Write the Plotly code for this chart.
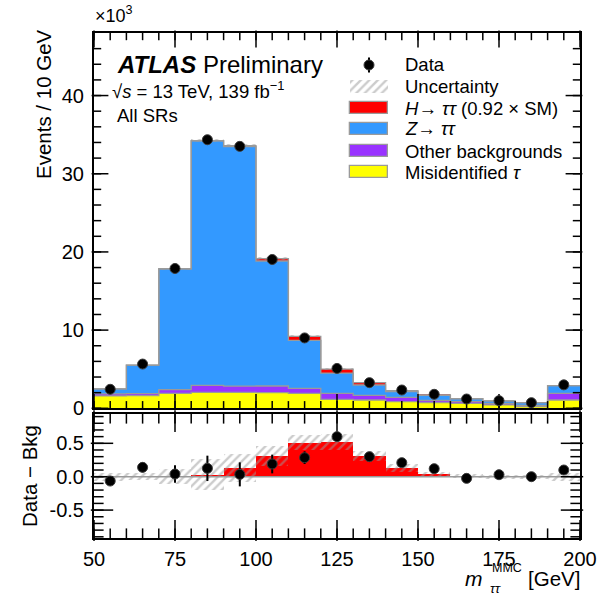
import numpy as np
import plotly.graph_objects as go

# ---------------- data (units of 10^3 events) ----------------
bin_lo = [50, 60, 70, 80, 90, 100, 110, 120, 130, 140, 150, 160, 170, 180, 190]
bin_w = 10
data = [2.43, 5.66, 17.88, 34.35, 33.50, 19.03, 9.00, 5.10, 3.28, 2.34, 1.79, 1.19, 0.98, 0.72, 3.00]
data_err = [0.05, 0.075, 0.13, 0.19, 0.18, 0.14, 0.095, 0.07, 0.06, 0.05, 0.04, 0.035, 0.03, 0.03, 0.055]
fake = [1.60, 1.62, 1.90, 2.04, 2.04, 2.00, 1.90, 1.15, 1.06, 0.85, 0.72, 0.62, 0.43, 0.22, 1.06]
other = [0.25, 0.25, 0.50, 0.90, 0.80, 0.85, 0.65, 0.75, 0.60, 0.55, 0.28, 0.23, 0.20, 0.14, 0.85]
ztt = [0.64, 3.65, 15.44, 31.26, 30.63, 15.99, 6.15, 2.60, 1.32, 0.73, 0.67, 0.37, 0.32, 0.36, 0.99]
htt = [0.0, 0.0, 0.005, 0.03, 0.135, 0.31, 0.51, 0.52, 0.31, 0.125, 0.035, 0.005, 0.0, 0.0, 0.0]
diff = [-0.065, 0.14, 0.04, 0.125, 0.035, 0.19, 0.285, 0.60, 0.30, 0.21, 0.12, -0.025, 0.03, 0.0, 0.10]
unc = [0.06, 0.05, 0.11, 0.23, 0.21, 0.15, 0.11, 0.12, 0.07, 0.06, 0.04, 0.03, 0.03, 0.03, 0.06]

x_ticks = [50, 75, 100, 125, 150, 175, 200]
x_minor = list(range(50, 201, 5))
y_ticks_top = [0, 10, 20, 30, 40]
y_minor_top = list(range(0, 48, 2))
y_ticks_bot = [-0.5, 0.0, 0.5]
y_minor_bot = [round(-0.9 + 0.1 * i, 1) for i in range(19)]
y_ticktext_bot = ["-0.5", "0.0", "0.5"]

legend_labels = ["Data", "Uncertainty", "<i>H</i>\u2192 <i>\u03c4\u03c4</i> (0.92 \u00d7 SM)",
                 "<i>Z</i>\u2192 <i>\u03c4\u03c4</i>", "Other backgrounds", "Misidentified <i>\u03c4</i>"]

# ---------------- styles ----------------
C_FAKE = "#ffff00"
C_OTHER = "#9933ff"
C_Z = "#3399ff"
C_H = "#ff0000"
C_OUT = "#9a9a9a"
C_HATCH = "#999999"
FONT = "Liberation Sans, Arial, Helvetica, sans-serif"

W, H = 599, 596
L, R, T, B = 94, 19, 33, 58
PW, PH = W - L - R, H - T - B
X_RANGE = [50, 200]
Y_RANGE_TOP = [0, 48]
Y_RANGE_BOT = [-0.918, 0.939]
TOP_BOTTOM_PX = 408.3
BOT_TOP_PX = 414
BOT_BOTTOM_PX = H - B


def px(xp):
    return (xp - L) / PW


def py(yp):
    return (H - B - yp) / PH


def xd(xp):  # pixel -> x data
    return X_RANGE[0] + (xp - L) / PW * (X_RANGE[1] - X_RANGE[0])


def yd(yp):  # pixel -> top-panel y data (for legend glyphs)
    return (TOP_BOTTOM_PX - yp) / (TOP_BOTTOM_PX - T) * (Y_RANGE_TOP[1] - Y_RANGE_TOP[0])


X_PER_PX = (X_RANGE[1] - X_RANGE[0]) / PW
YTOP_PER_PX = (Y_RANGE_TOP[1] - Y_RANGE_TOP[0]) / (TOP_BOTTOM_PX - T)
YBOT_PER_PX = (Y_RANGE_BOT[1] - Y_RANGE_BOT[0]) / (BOT_BOTTOM_PX - BOT_TOP_PX)

lo = np.array(bin_lo, dtype=float)
cen = lo + bin_w / 2
edges = np.append(lo, lo[-1] + bin_w)
fake_a, other_a, z_a, h_a = map(np.array, (fake, other, ztt, htt))
c1 = fake_a
c2 = c1 + other_a
c3 = c2 + z_a
c4 = c3 + h_a
unc_a = np.array(unc)

fig = go.Figure()
hatch = dict(shape="/", fgcolor=C_HATCH, bgcolor="rgba(0,0,0,0)", size=6, solidity=0.4, fillmode="overlay")
marker_data = dict(color="black", size=10, line=dict(color="#3a3a3a", width=1))


def bar(x, height, base, width, color, xa="x", ya="y", line=None, pattern=None):
    mk = dict(color=color, line=line or dict(width=0))
    if pattern:
        mk["pattern"] = pattern
    fig.add_trace(go.Bar(x=x, y=height, base=base, width=width, marker=mk,
                         xaxis=xa, yaxis=ya, showlegend=False, hoverinfo="skip"))


# ---- upper panel ----
bar(cen, fake_a, np.zeros_like(c1), bin_w, C_FAKE)
bar(cen, other_a, c1, bin_w, C_OTHER)
bar(cen, z_a, c2, bin_w, C_Z)
bar(cen, h_a, c3, bin_w, C_H)
for top in (c1, c2, c3, c4):
    fig.add_trace(go.Scatter(x=edges, y=np.append(top, top[-1]), mode="lines",
                             line=dict(shape="hv", color=C_OUT, width=1.3),
                             xaxis="x", yaxis="y", showlegend=False, hoverinfo="skip"))
bar(cen, 2 * unc_a, c4 - unc_a, bin_w, "rgba(0,0,0,0)", pattern=hatch)

# ---- lower panel ----
bar(cen, h_a, np.zeros_like(h_a), bin_w, C_H, xa="x2", ya="y2")
fig.add_trace(go.Scatter(x=[edges[0], edges[-1]], y=[0, 0], mode="lines", line=dict(color=C_OUT, width=1.5),
                         xaxis="x2", yaxis="y2", showlegend=False, hoverinfo="skip"))
bar(cen, 2 * unc_a, h_a - unc_a, bin_w, "rgba(0,0,0,0)", xa="x2", ya="y2", pattern=hatch)

# ---- legend glyphs (placed in the upper panel) ----
leg_y = [65, 86, 108, 129, 151, 172]
leg_x0, leg_x1 = 350, 388
leg_cx = xd((leg_x0 + leg_x1) / 2)
leg_w = xd(leg_x1) - xd(leg_x0)
bar([leg_cx], [yd(leg_y[1] - 6.5) - yd(leg_y[1] + 6.5)], [yd(leg_y[1] + 6.5)], leg_w, "rgba(0,0,0,0)",
    pattern=hatch)
for yy, col in zip(leg_y[2:], [C_H, C_Z, C_OTHER, C_FAKE]):
    bar([leg_cx], [yd(yy - 6) - yd(yy + 6)], [yd(yy + 6)], leg_w, col, line=dict(color=C_OUT, width=1.3))


# ---- ROOT-style inside ticks on all four sides, drawn as line-shaped markers ----
def x_tick_marks(xa, ya, vals, length_px, yrange, y_per_px):
    half = 0.5 * length_px * y_per_px
    n = len(vals)
    for yv in (yrange[0] + half, yrange[1] - half):
        fig.add_trace(go.Scatter(x=vals, y=[yv] * n, mode="markers", cliponaxis=False,
                                 marker=dict(symbol="line-ns-open", size=length_px, color="black",
                                             line=dict(color="black", width=1.5)),
                                 xaxis=xa, yaxis=ya, showlegend=False, hoverinfo="skip"))


def y_tick_marks(xa, ya, vals, length_px):
    half = 0.5 * length_px * X_PER_PX
    n = len(vals)
    for xv in (X_RANGE[0] + half, X_RANGE[1] - half):
        fig.add_trace(go.Scatter(x=[xv] * n, y=vals, mode="markers", cliponaxis=False,
                                 marker=dict(symbol="line-ew-open", size=length_px, color="black",
                                             line=dict(color="black", width=1.5)),
                                 xaxis=xa, yaxis=ya, showlegend=False, hoverinfo="skip"))


x_tick_marks("x", "y", x_minor, 6, Y_RANGE_TOP, YTOP_PER_PX)
x_tick_marks("x", "y", x_ticks, 12, Y_RANGE_TOP, YTOP_PER_PX)
y_tick_marks("x", "y", y_minor_top, 6)
y_tick_marks("x", "y", y_ticks_top, 12)
x_tick_marks("x2", "y2", x_minor, 8, Y_RANGE_BOT, YBOT_PER_PX)
x_tick_marks("x2", "y2", x_ticks, 15, Y_RANGE_BOT, YBOT_PER_PX)
y_tick_marks("x2", "y2", y_minor_bot, 8)
y_tick_marks("x2", "y2", y_ticks_bot, 16)

# ---- data points (on top) ----
fig.add_trace(go.Scatter(x=cen, y=data, mode="markers", marker=marker_data,
                         error_y=dict(type="data", array=data_err, color="black", thickness=2, width=0),
                         xaxis="x", yaxis="y", showlegend=False, hoverinfo="skip"))
fig.add_trace(go.Scatter(x=cen, y=diff, mode="markers", marker=marker_data,
                         error_y=dict(type="data", array=data_err, color="black", thickness=2, width=0),
                         xaxis="x2", yaxis="y2", showlegend=False, hoverinfo="skip"))
fig.add_trace(go.Scatter(x=[leg_cx], y=[yd(leg_y[0])], mode="markers", marker=marker_data,
                         error_y=dict(type="constant", value=7.5 * YTOP_PER_PX, color="black", thickness=2, width=0),
                         xaxis="x", yaxis="y", showlegend=False, hoverinfo="skip"))

ann = []


def text(xp, yp, s, size=18, xanchor="left", angle=0):
    ann.append(dict(x=px(xp), y=py(yp), xref="paper", yref="paper", text=s, showarrow=False,
                    xanchor=xanchor, yanchor="middle", textangle=angle,
                    font=dict(size=size, color="black", family=FONT)))


for yy, lab in zip(leg_y, legend_labels):
    text(403, yy, lab, 18.5)

text(115, 65, "<b><i>ATLAS</i></b> Preliminary", 24)
text(110, 90, "\u221a<i>s</i> = 13 TeV, 139 fb<sup>\u22121</sup>", 18.5)
text(115, 115, "All SRs", 18.5)
text(93, 15, "\u00d710<sup>3</sup>", 18)

text(43, 104, "Events / 10 GeV", 20.5, xanchor="center", angle=-90)
text(29, 476, "Data \u2212 Bkg", 20.5, xanchor="center", angle=-90)
text(582, 578, "[GeV]", 20.5, xanchor="right")
text(485, 578, "<i>m</i>", 21, xanchor="right")
text(490, 568, "MMC", 12.5)
text(488, 588, "<i>\u03c4\u03c4</i>", 13.5)

base_ax = dict(showline=True, linecolor="black", linewidth=2, automargin=False, mirror=True,
               ticks="", showgrid=False, zeroline=False)

fig.update_layout(
    template="none",
    width=W, height=H, margin=dict(l=L, r=R, t=T, b=B, pad=0), autosize=False,
    paper_bgcolor="white", plot_bgcolor="white",
    barmode="overlay", bargap=0, showlegend=False,
    font=dict(family=FONT, size=20, color="black"),
    annotations=ann,
    xaxis=dict(domain=[0, 1], range=X_RANGE, anchor="y", tickvals=x_ticks, showticklabels=False, **base_ax),
    yaxis=dict(domain=[py(TOP_BOTTOM_PX), 1], range=Y_RANGE_TOP, anchor="x", tickvals=y_ticks_top,
               tickfont=dict(size=20), ticklabelstandoff=4, **base_ax),
    xaxis2=dict(domain=[0, 1], range=X_RANGE, anchor="y2", tickvals=x_ticks, tickfont=dict(size=20),
                ticklabelstandoff=2, **base_ax),
    yaxis2=dict(domain=[0, py(BOT_TOP_PX)], range=Y_RANGE_BOT, anchor="x2", tickvals=y_ticks_bot,
                ticktext=y_ticktext_bot, tickfont=dict(size=20), ticklabelstandoff=4, **base_ax),
)

fig.write_html("out.html")
